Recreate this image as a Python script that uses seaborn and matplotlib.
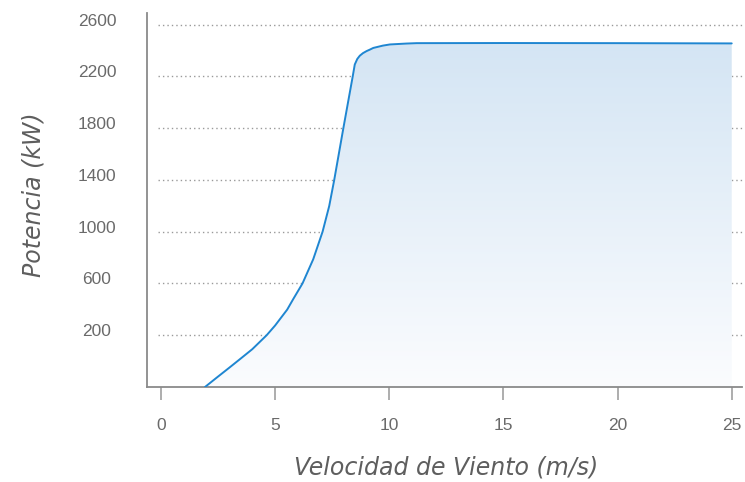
import numpy as np
import pandas as pd
import matplotlib
matplotlib.use("Agg")
import matplotlib.pyplot as plt
from matplotlib.colors import LinearSegmentedColormap
from matplotlib.transforms import ScaledTranslation
import seaborn as sns

# ---- data ----
velocidad = [1.93, 2.44, 3.0, 3.46, 4.0, 4.63, 5.0, 5.53, 5.79, 6.2, 6.67, 7.08, 7.37, 7.59, 7.99,
             8.4, 8.49, 8.6, 8.71, 8.85, 9.01, 9.15, 9.3, 9.72, 10.03, 10.76, 11.2, 15, 20, 25]
potencia = [-200, -128, -50, 15, 92, 200, 275, 398, 478, 600, 787, 1000, 1198, 1400, 1800,
            2200, 2292, 2335, 2360, 2380, 2396, 2407, 2420, 2438, 2447, 2454, 2457, 2458, 2457, 2455]
y_ticks = [200, 600, 1000, 1400, 1800, 2200, 2600]
x_ticks = [0, 5, 10, 15, 20, 25]
x_label = "Velocidad de Viento (m/s)"
y_label = "Potencia (kW)"

df = pd.DataFrame({"v": velocidad, "p": potencia})

sns.set_theme(style="white")
plt.rcParams["font.family"] = ["Liberation Sans", "DejaVu Sans"]

W, H = 745, 482
fig = plt.figure(figsize=(W / 100, H / 100), dpi=100)
ax = fig.add_axes([147 / W, (H - 387) / H, (742 - 147) / W, (387 - 13) / H])

ymin, ymax = -200, 2690
xmin, xmax = -0.61, 25.45
ax.set_xlim(xmin, xmax)
ax.set_ylim(ymin, ymax)

# gridlines
ax.hlines(y_ticks, -0.13, 25.6, colors="#9a9a9a", linestyles=(0, (1, 2.2)),
          linewidth=1.0, clip_on=False, zorder=1)

# gradient fill under curve
poly = ax.fill_between(df["v"], df["p"], ymin, color="none", lw=0, zorder=2)
cmap = LinearSegmentedColormap.from_list("g", ["#fbfcfe", "#d4e5f4"])
grad = np.linspace(0, 1, 256).reshape(-1, 1)
im = ax.imshow(grad, extent=[min(velocidad), max(velocidad), ymin, 2460], origin="lower",
               aspect="auto", cmap=cmap, zorder=2)
im.set_clip_path(poly.get_paths()[0], transform=ax.transData)

sns.lineplot(data=df, x="v", y="p", ax=ax, color="#1f86d1", linewidth=1.4, zorder=3)

# spines
for s in ["top", "right"]:
    ax.spines[s].set_visible(False)
for s in ["left", "bottom"]:
    ax.spines[s].set_color("#8a8a8a")
    ax.spines[s].set_linewidth(1.3)

ax.set_xticks(x_ticks)
ax.set_xticklabels([str(t) for t in x_ticks])
ax.set_yticks(y_ticks)
ax.set_yticklabels([str(t) for t in y_ticks])
ax.tick_params(axis="x", length=9.5, width=1.2, color="#a0a0a0", pad=13,
               labelsize=12.5, labelcolor="#6a6a6a", direction="out", bottom=True)
ax.tick_params(axis="y", length=0, pad=36, labelsize=12.5, labelcolor="#6a6a6a")
off = ScaledTranslation(0, 5 / 100, fig.dpi_scale_trans)
for lab in ax.get_yticklabels():
    lab.set_horizontalalignment("center")
    lab.set_transform(lab.get_transform() + off)

ax.set_xlabel(x_label, fontsize=17, style="italic", color="#5e5e5e",
              family=["DejaVu Sans"])
ax.set_ylabel(y_label, fontsize=17, style="italic", color="#5e5e5e",
              family=["DejaVu Sans"])
ax.xaxis.set_label_coords((446 - 147) / 595, -(455 - 387) / 374)
ax.yaxis.set_label_coords(-(147 - 45) / 595, (387 - 195) / 374)
ax.grid(False)

fig.savefig("out.png", dpi=100)
